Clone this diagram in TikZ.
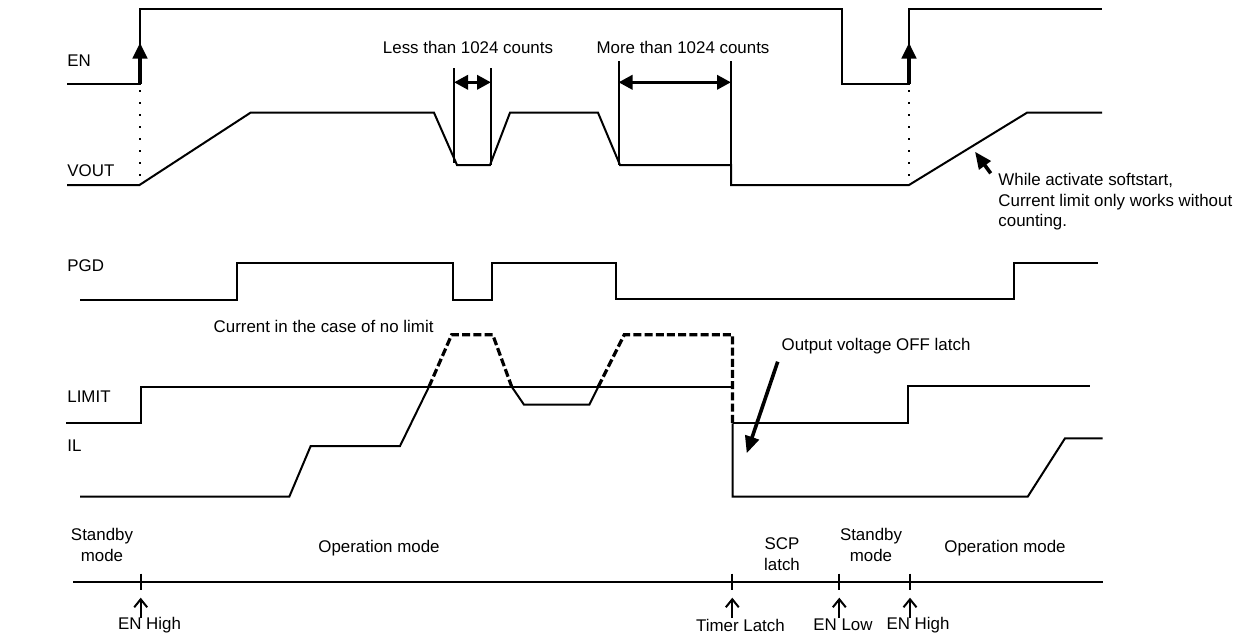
\documentclass[tikz,border=0pt]{standalone}
\usepackage{fontspec}
\setmainfont{Liberation Sans}
\usetikzlibrary{arrows.meta, positioning}

\begin{document}
\begin{tikzpicture}[x=0.5pt, y=-0.5pt,
  wave/.style={line width=1pt, line join=miter},
  nolimit/.style={line width=1.6pt, dash pattern=on 4pt off 1.6pt},
  dotln/.style={line width=0.8pt, dash pattern=on 0.8pt off 5.2pt},
  lbl/.style={font=\fontsize{8.45}{10.2}\selectfont, inner sep=0pt},
  bigarr/.style={line width=2pt, -{Triangle[length=8pt, width=7pt]}},
  dimarr/.style={line width=1.8pt, {Triangle[length=7pt, width=7pt]}-{Triangle[length=7pt, width=7pt]}},
  notearr/.style={line width=1.8pt, -{Triangle[length=8.5pt, width=7pt]}},
  uparr/.style={line width=1pt, -{Straight Barb[length=4pt, width=6.5pt]}},
  tk/.style={line width=1pt}]
  \useasboundingbox (0,0) rectangle (1253,637);
  % signal names
  \node[lbl, anchor=west] (en)    at (67,61)  {EN};
  \node[lbl, anchor=west] (vout)  at (67,171) {VOUT};
  \node[lbl, anchor=west] (pgd)   at (67,266) {PGD};
  \node[lbl, anchor=west] (limit) at (67,397) {LIMIT};
  \node[lbl, anchor=west] (il)    at (67,446) {IL};
  % EN
  \draw[wave] (67,84) -- (140,84) -- (140,9) -- (842,9) -- (842,84) -- (909,84) -- (909,9) -- (1102,9);
  \draw[bigarr] (140,84) -- (140,42.5);
  \draw[bigarr] (909,84) -- (909,42.5);
  \draw[dotln] (140,90) -- (140,182);
  \draw[dotln] (909,90) -- (909,182);
  % VOUT
  \draw[wave] (67,185) -- (139.5,185) -- (250.5,112.7) -- (434,112.7) -- (457,165) -- (490,165)
    -- (510,112.7) -- (598,112.7) -- (620,165) -- (731,165) -- (731,185) -- (909,185)
    -- (1027,112.7) -- (1102,112.7);
  \draw[wave] (454,68) -- (454,163);
  \draw[wave] (491,68) -- (491,165);
  \draw[wave] (618.5,61) -- (618.5,165);
  \draw[wave] (731,61) -- (731,165);
  \coordinate (l1) at (454,82.3);
  \coordinate (l2) at (491,82.3);
  \coordinate (m1) at (618.5,82.3);
  \coordinate (m2) at (731,82.3);
  \draw[dimarr] (l1) -- (l2);
  \draw[dimarr] (m1) -- (m2);
  \node[lbl] (less) at (468,47) {Less than 1024 counts};
  \node[lbl] (more) at (683,47) {More than 1024 counts};
  \node[lbl, anchor=west, align=left] (soft) at (998,202)
    {While activate softstart,\\Current limit only works without\\counting.};
  \coordinate (ss) at (975,151.7);
  \draw[notearr] (990.7,173.3) -- (ss);
  % PGD
  \draw[wave] (80,300) -- (237,300) -- (237,262.7) -- (453,262.7) -- (453,300) -- (492,300)
    -- (492,262.7) -- (616,262.7) -- (616,299.3) -- (1014,299.3) -- (1014,262.7) -- (1098,262.7);
  % LIMIT and IL
  \draw[wave] (66,422.7) -- (141,422.7) -- (141,386.7) -- (732.5,386.7);
  \draw[wave] (732.5,423.3) -- (908.3,423.3) -- (908.3,386) -- (1090,386);
  \draw[wave] (80,496.7) -- (289.3,496.7) -- (310.7,446) -- (400,446) -- (429,386.7);
  \draw[nolimit] (429,386.7) -- (451.7,334.7) -- (492.7,334.7) -- (511.7,386.7);
  \draw[wave] (511.7,386.7) -- (524,404.7) -- (589.3,404.7) -- (598.3,386.7);
  \draw[nolimit] (598.3,386.7) -- (624.3,334.7) -- (732.5,334.7) -- (732.5,423.3);
  \draw[wave] (732.5,423.3) -- (732.5,496.7) -- (1027.7,496.7) -- (1065,438.3) -- (1102.7,438.3);
  \node[lbl] (nolim) at (323.6,326) {Current in the case of no limit};
  \node[lbl] (off) at (876,346) {Output voltage OFF latch};
  \coordinate (offtip) at (746.7,453.3);
  \draw[notearr] (777.7,361.7) -- (offtip);
  % modes and time axis
  \draw[tk] (73,581.7) -- (1102.7,581.7);
  \coordinate (t1) at (140.7,581.7);
  \coordinate (t2) at (732.3,581.7);
  \coordinate (t3) at (839.3,581.7);
  \coordinate (t4) at (910,581.7);
  \foreach \t in {t1,t2,t3,t4} {
    \draw[tk] ([yshift=4pt]\t) -- ([yshift=-4pt]\t);
    \draw[uparr] ([yshift=-18.2pt]\t) -- ([yshift=-8pt]\t);
  }
  \node[lbl, align=center] (sb1) at (102,545) {Standby\\mode};
  \node[lbl] (op1) at (379,548) {Operation mode};
  \node[lbl, align=center] (scp) at (782,554) {SCP\\latch};
  \node[lbl, align=center] (sb2) at (871,545) {Standby\\mode};
  \node[lbl] (op2) at (1005,548) {Operation mode};
  \node[lbl] (enh1) at (149.5,625) {EN High};
  \node[lbl] (tmr)  at (740.5,625) {Timer Latch};
  \node[lbl] (enl)  at (843,625) {EN Low};
  \node[lbl] (enh2) at (918,625) {EN High};
\end{tikzpicture}
\end{document}
